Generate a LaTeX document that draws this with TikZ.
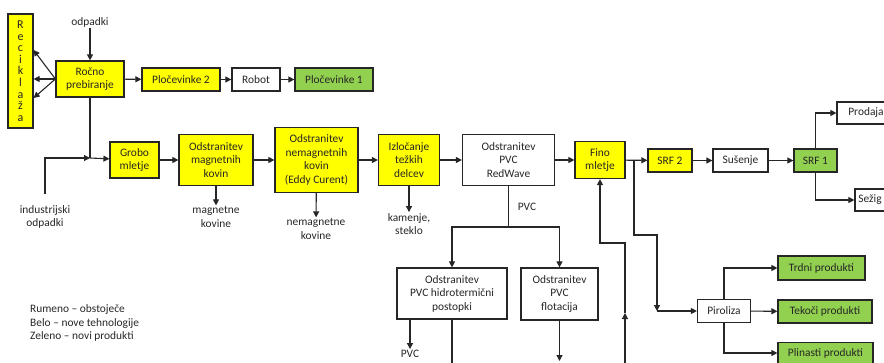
\documentclass[tikz,border=0pt]{standalone}
\usepackage{fontspec}
\setmainfont{Carlito}
\usetikzlibrary{arrows, arrows.meta}
\usetikzlibrary{calc}

\definecolor{rumena}{HTML}{FFFF00}
\definecolor{zelena}{HTML}{92D050}
\definecolor{crta}{HTML}{262626}

\begin{document}
\begin{tikzpicture}[x=1pt, y=-1pt,
    box/.style={draw=crta, line width=1.2pt, align=center, inner sep=0pt, font=\fontsize{11.4}{13.5}\selectfont, text=crta},
    rum/.style={box, fill=rumena},
    bel/.style={box, fill=white},
    zel/.style={box, fill=zelena},
    txt/.style={align=center, inner sep=1pt, font=\fontsize{11.4}{13.5}\selectfont, text=crta},
    pu/.style={-{Triangle[length=6pt, width=6pt]}, line width=1.1pt, draw=crta},
    ln/.style={line width=1.1pt, draw=crta}]
    \useasboundingbox (0,0) rectangle (884,362);

    % vhod in rocno prebiranje
    \node[rum, minimum width=25, minimum height=114, font=\fontsize{12}{11.6}\selectfont] (recik) at (20.5,71) {R\\e\\c\\i\\k\\l\\a\\ž\\a};
    \node[txt] (odpadki) at (90,22) {odpadki};
    \node[rum, minimum width=68, minimum height=36] (rocno) at (90,79) {Ročno\\prebiranje};
    \node[rum, minimum width=78, minimum height=23] (plo2) at (181,79.5) {Pločevinke 2};
    \node[bel, minimum width=48, minimum height=23] (robot) at (256,79.5) {Robot};
    \node[zel, minimum width=78, minimum height=23] (plo1) at (334,79.5) {Pločevinke 1};

    % glavna linija
    \coordinate (join) at (90,158);
    \node[txt] (indus) at (45,217) {industrijski\\odpadki};
    \node[rum, minimum width=49, minimum height=36] (grobo) at (134.5,160) {Grobo\\mletje};
    \node[rum, minimum width=74, minimum height=51] (magn) at (216,160) {Odstranitev\\magnetnih\\kovin};
    \node[txt] (magtxt) at (216,217) {magnetne\\kovine};
    \node[rum, minimum width=83, minimum height=65] (nemagn) at (316.5,160) {Odstranitev\\nemagnetnih\\kovin\\(Eddy Curent)};
    \node[txt] (nemtxt) at (316,229) {nemagnetne\\kovine};
    \node[rum, minimum width=61, minimum height=51] (tezki) at (409,160) {Izločanje\\težkih\\delcev};
    \node[txt] (kamtxt) at (409,224) {kamenje,\\steklo};
    \node[bel, minimum width=92, minimum height=51] (redw) at (508.5,160) {Odstranitev\\PVC\\RedWave};
    \node[rum, minimum width=50, minimum height=37] (fino) at (600,160) {Fino\\mletje};
    \node[rum, minimum width=44, minimum height=23] (srf2) at (670,160.5) {SRF 2};
    \node[bel, minimum width=55, minimum height=23] (sus) at (740.5,160.5) {Sušenje};
    \node[zel, minimum width=43, minimum height=23] (srf1) at (815.5,160.5) {SRF 1};
    \node[bel, minimum width=58, minimum height=22] (prodaja) at (866,113) {Prodaja};
    \node[bel, minimum width=30, minimum height=22] (sezig) at (870,200) {Sežig};

    % PVC veja
    \node[txt] (pvctxt) at (527,207) {PVC};
    \coordinate (split) at (508.5,227);
    \node[bel, minimum width=110, minimum height=51] (hidro) at (452,293.5) {Odstranitev\\PVC hidrotermični\\postopki};
    \node[bel, minimum width=77, minimum height=52] (flot) at (559.5,294) {Odstranitev\\PVC\\flotacija};
    \node[txt] (pvc2) at (410,354) {PVC};
    \coordinate (hidroend) at (452,366);
    \coordinate (flotend) at (559.5,361);

    % piroliza
    \coordinate (fsplit) at (634,160);
    \coordinate (pbend) at (657,311);
    \node[bel, minimum width=53, minimum height=23] (piro) at (724,311) {Piroliza};
    \node[zel, minimum width=87, minimum height=24] (trdni) at (821.5,268) {Trdni produkti};
    \node[zel, minimum width=94, minimum height=23] (tekoci) at (825,311.5) {Tekoči produkti};
    \node[zel, minimum width=95, minimum height=21] (plin) at (825.5,353) {Plinasti produkti};

    % povratna zanka
    \coordinate (fbin) at (625,366);
    \coordinate (fbmid) at (625,313);

    \node[txt, align=left, anchor=west] (legenda) at (29,323) {Rumeno -- obstoječe\\Belo -- nove tehnologije\\Zeleno -- novi produkti};

    \draw[pu] (odpadki) -- (rocno);
    \draw[pu] (rocno.west) -- ([yshift=21pt]recik.east);
    \draw[pu] (rocno.west) -- ([yshift=-8pt]recik.east);
    \draw[pu] (rocno.west) -- ([yshift=-27pt]recik.east);
    \draw[pu] (rocno) -- (plo2);
    \draw[pu] (plo2) -- (robot);
    \draw[pu] (robot) -- (plo1);

    \draw[ln] (rocno.south) -- (join);
    \draw[pu] ([yshift=10pt]indus.north) |- (join);
    \draw[pu] (join) -- (grobo);
    \draw[pu] (grobo) -- (magn);
    \draw[pu] (magn) -- (nemagn);
    \draw[pu] (nemagn) -- (tezki);
    \draw[pu] (tezki) -- (redw);
    \draw[pu] (redw) -- (fino);
    \draw[pu] (fino) -- (srf2);
    \draw[pu] (srf2) -- (sus);
    \draw[pu] (sus) -- (srf1);
    \draw[pu] (srf1.north) |- (prodaja.west);
    \draw[pu] (srf1.south) |- (sezig.west);

    \draw[pu] (magn) -- (magtxt);
    \draw[pu] (nemagn) -- (nemtxt);
    \draw[pu] (tezki) -- (kamtxt);

    \draw[ln] (redw) -- (split);
    \draw[pu] (split) -| (hidro.north);
    \draw[pu] (split) -| (flot.north);
    \draw[pu] (hidro.south -| pvc2) -- (pvc2);
    \draw[ln] (hidro) -- (hidroend);
    \draw[pu] (flot) -- (flotend);

    \draw[pu] (fbin) -- (fbmid);
    \draw[pu] (fbmid) -- (625,243) -| (fino.south);

    \draw[pu] (fsplit) -- (634,235) -- (657,235) -- (pbend);
    \draw[pu] (pbend) -- (piro);
    \draw[pu] (piro.north) |- (trdni);
    \draw[pu] (piro) -- (tekoci);
    \draw[pu] (piro.south) |- (plin);
  \end{tikzpicture}
\end{document}
